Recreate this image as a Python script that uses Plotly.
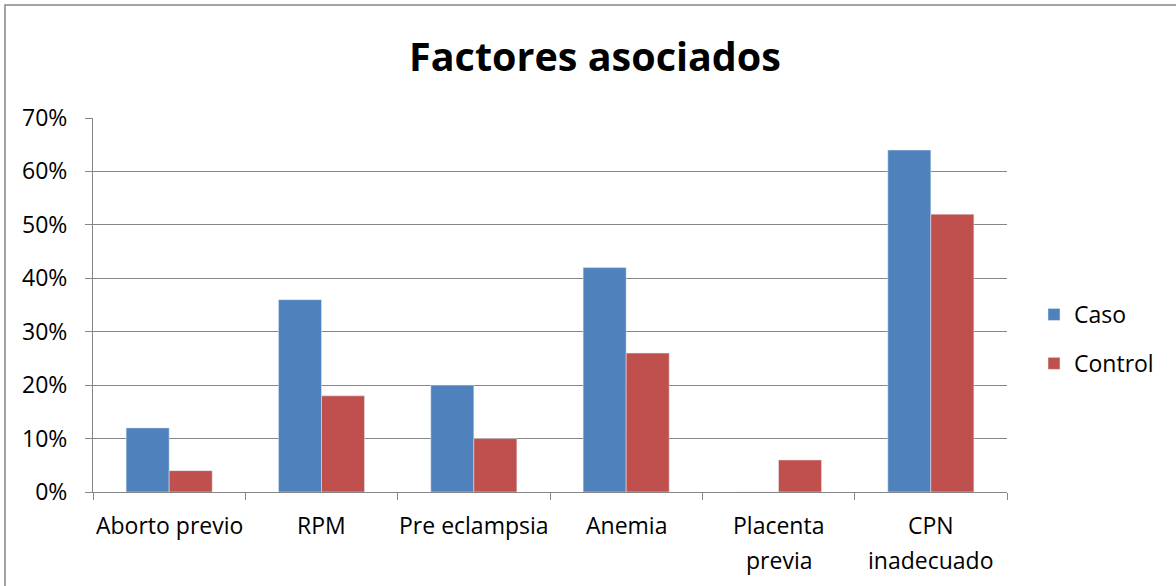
import plotly.graph_objects as go

categories = ["Aborto previo", "RPM", "Pre eclampsia", "Anemia", "Placenta\nprevia", "CPN\ninadecuado"]
caso = [0.12, 0.36, 0.20, 0.42, 0.0, 0.64]
control = [0.04, 0.18, 0.10, 0.26, 0.06, 0.52]
y_ticks = [0, 0.1, 0.2, 0.3, 0.4, 0.5, 0.6, 0.7]

W, H = 1176, 586
L, R, T, B = 93, 169, 118, 94
pw, ph = W - L - R, H - T - B

font = "Open Sans, sans-serif"
grid = "#868686"
fs = 23

fig = go.Figure()
fig.add_trace(go.Bar(name="Caso", x=categories, y=caso, marker_color="#4F81BD",
                     legendgroup="a"))
fig.add_trace(go.Bar(name="Control", x=categories, y=control, marker_color="#C0504D",
                     legendgroup="b"))

def px2x(p):
    return (p - L) / pw

def py2y(p):
    return (H - B - p) / ph

annotations = []
for cat in categories:
    for i, line in enumerate(cat.split("\n")):
        annotations.append(dict(x=cat, y=0, xref="x", yref="y", text=line,
                                showarrow=False, yanchor="middle", xanchor="center",
                                yshift=-(33 + 35 * i), font=dict(size=fs, family=font)))

fig.update_layout(
    width=W, height=H,
    margin=dict(l=L, r=R, t=T, b=B),
    paper_bgcolor="white", plot_bgcolor="white",
    barmode="group", bargap=0.435, bargroupgap=0,
    font=dict(family=font, size=fs, color="black"),
    title=dict(text="<b>Factores asociados</b>", x=(595 / W), xanchor="center",
               y=1 - 57 / H, yanchor="middle", font=dict(size=39.5, family=font)),
    legend=dict(x=px2x(1034), y=py2y(339), xanchor="left", yanchor="middle",
                font=dict(size=fs), traceorder="grouped", tracegroupgap=16,
                itemwidth=30),
    showlegend=True,
    annotations=annotations,
    shapes=[dict(type="rect", xref="paper", yref="paper",
                 x0=px2x(5), x1=px2x(1190), y0=py2y(600), y1=py2y(5),
                 line=dict(color=grid, width=1.5), layer="below")],
)
fig.update_yaxes(range=[0, 0.7], tickvals=y_ticks, tickformat=".0%",
                 showgrid=True, gridcolor=grid, gridwidth=1,
                 showline=True, linecolor=grid, linewidth=1,
                 ticks="outside", ticklen=7, tickcolor=grid, zeroline=False,
                 ticklabelstandoff=13)
fig.update_xaxes(showline=True, linecolor=grid, linewidth=1,
                 ticks="outside", ticklen=7, tickcolor=grid,
                 tickson="boundaries", showgrid=False, showticklabels=False)

fig.write_html("out.html", config={"displayModeBar": False},
               post_script="document.body.style.margin='0';")
